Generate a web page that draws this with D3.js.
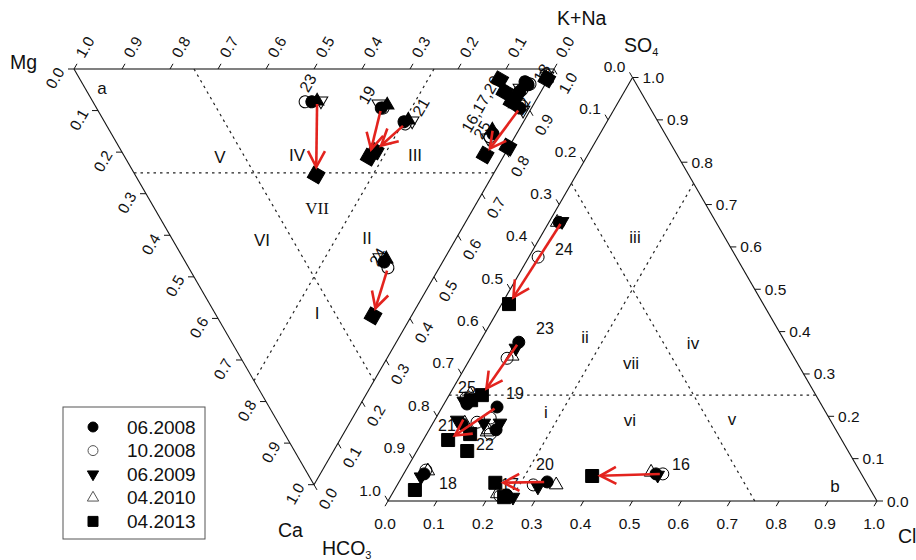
<!DOCTYPE html>
<html>
<head>
<meta charset="utf-8">
<script src="https://cdn.jsdelivr.net/npm/d3@7"></script>
<style>
body { margin: 0; background: #fff; }
svg text { font-family: "Liberation Sans", Arial, sans-serif; fill: #111; }
</style>
</head>
<body>
<div id="chart"></div>
<script>
// Samples and sampling campaigns
let sampleIds = [16, 17, 18, 19, 20, 21, 22, 23, 24, 25];
let dates = ["06.2008", "10.2008", "06.2009", "04.2010", "04.2013"];
let tickVals = [0, 0.1, 0.2, 0.3, 0.4, 0.5, 0.6, 0.7, 0.8, 0.9, 1.0];
let divisions = [0.25, 0.75];

// Cation fractions (triangle a), one row per date, columns follow sampleIds
let cationNa = [
    [0.924, 0.901, 0.975, 0.593, 0.927, 0.624, 0.882, 0.456, 0.414, 0.795],
    [0.927, 0.908, 0.976, 0.597, 0.932, 0.624, 0.889, 0.442, 0.415, 0.785],
    [0.915, 0.888, 0.973, 0.609, 0.875, 0.635, 0.877, 0.468, 0.422, 0.798],
    [0.906, 0.891, 0.977, 0.593, 0.881, 0.642, 0.886, 0.476, 0.410, 0.780],
    [0.874, 0.870, 0.973, 0.509, 0.873, 0.529, 0.753, 0.377, 0.326, 0.810]
];
let cationCa = [
    [0.031, 0.055, 0.024, 0.094, 0.038, 0.127, 0.094, 0.079, 0.464, 0.156],
    [0.034, 0.050, 0.014, 0.094, 0.036, 0.132, 0.089, 0.079, 0.478, 0.163],
    [0.041, 0.063, 0.022, 0.087, 0.075, 0.123, 0.084, 0.077, 0.457, 0.147],
    [0.046, 0.067, 0.017, 0.084, 0.079, 0.125, 0.099, 0.077, 0.454, 0.166],
    [0.026, 0.055, 0.024, 0.212, 0.079, 0.197, 0.207, 0.255, 0.594, 0.188]
];

// Anion fractions (triangle b)
let anionSO4 = [
    [0.064, 0.014, 0.064, 0.222, 0.045, 0.182, 0.168, 0.375, 0.658, 0.229],
    [0.064, 0.012, 0.073, 0.196, 0.038, 0.186, 0.158, 0.337, 0.576, 0.243],
    [0.061, 0.009, 0.057, 0.184, 0.033, 0.191, 0.184, 0.361, 0.660, 0.236],
    [0.068, 0.017, 0.071, 0.168, 0.038, 0.184, 0.163, 0.342, 0.658, 0.252],
    [0.059, 0.009, 0.026, 0.144, 0.043, 0.118, 0.158, 0.250, 0.465, 0.238]
];
let anionCl = [
    [0.516, 0.236, 0.042, 0.112, 0.303, 0.061, 0.137, 0.080, 0.021, 0.047],
    [0.530, 0.223, 0.041, 0.111, 0.278, 0.089, 0.130, 0.075, 0.019, 0.038],
    [0.521, 0.251, 0.039, 0.137, 0.290, 0.046, 0.104, 0.081, 0.026, 0.037],
    [0.504, 0.215, 0.046, 0.121, 0.325, 0.065, 0.121, 0.083, 0.017, 0.042],
    [0.388, 0.233, 0.042, 0.051, 0.198, 0.103, 0.089, 0.067, 0.015, 0.051]
];

// Arrows: [sample, index of start date]; every arrow ends at 04.2013
let arrowsA = [[23, 2], [19, 0], [21, 1], [24, 1], [22, 0]];
let arrowsB = [[24, 2], [23, 0], [19, 0], [20, 0], [16, 1]];

// Sample labels [text, x, y]
let labelsA = [["23", 308, 83], ["19", 367, 95], ["21", 421, 107], ["24", 378, 257],
    ["16,17,20", 481, 104], ["25", 482, 130], ["22", 522, 106], ["18", 542, 73]];
let labelsB = [["24", 564, 249], ["23", 545, 328], ["25", 467, 387], ["19", 515, 393],
    ["21", 447, 425], ["22", 485, 444], ["20", 545, 464], ["18", 448, 483],
    ["17", 510, 484], ["16", 681, 464]];

let svgWidth = 916;
let svgHeight = 560;
let red = "#e3231e";

let svg = d3.select('#chart')
    .append('svg')
    .attr('width', svgWidth)
    .attr('height', svgHeight);

// Triangle a (cations, pointing down) and triangle b (anions, pointing up)
let sideA = 480, hA = sideA * Math.sqrt(3) / 2;
let sideB = 489, hB = sideB * Math.sqrt(3) / 2;
let xA = d3.scaleLinear().domain([0, 1]).range([74, 74 + sideA]);
let yA = d3.scaleLinear().domain([0, 1]).range([69, 69 + hA]);
let xB = d3.scaleLinear().domain([0, 1]).range([388, 388 + sideB]);
let yB = d3.scaleLinear().domain([0, 1]).range([501, 501 - hB]);

function posA(na, ca) { return [xA(na + ca / 2), yA(ca)]; }
function posB(cl, so4) { return [xB(cl + so4 / 2), yB(so4)]; }

let defs = svg.append('defs');
defs.append('marker')
    .attr('id', 'head')
    .attr('markerUnits', 'userSpaceOnUse')
    .attr('viewBox', '-20 -12 24 24')
    .attr('markerWidth', 24)
    .attr('markerHeight', 24)
    .attr('refX', 0)
    .attr('refY', 0)
    .attr('orient', 'auto')
    .append('path')
    .attr('d', 'M-16,-8.5L0,0L-16,8.5')
    .attr('fill', 'none')
    .attr('stroke', red)
    .attr('stroke-width', 2.6);

let line = (g, p, q) => g.append('line')
    .attr('x1', p[0]).attr('y1', p[1]).attr('x2', q[0]).attr('y2', q[1]);

// ---- frames
let frame = svg.append('g');
line(frame, posA(1, 0), posA(0, 0)).attr('stroke', '#808080').attr('stroke-width', 2);
line(frame, posA(0, 0), posA(0, 1)).attr('stroke', '#111').attr('stroke-width', 1.1);
line(frame, posA(1, 0), posA(0, 1)).attr('stroke', '#111').attr('stroke-width', 1.1);
line(frame, posB(0, 0), posB(1, 0)).attr('stroke', '#808080').attr('stroke-width', 2);
line(frame, posB(0, 0), posB(0, 1)).attr('stroke', '#111').attr('stroke-width', 1.1);
line(frame, posB(1, 0), posB(0, 1)).attr('stroke', '#111').attr('stroke-width', 1.1);

// ---- ticks and tick labels
let fmt = d3.format('.1f');
let ticks = svg.append('g').attr('stroke', '#111').attr('stroke-width', 1);
let tickText = svg.append('g').style('font-size', '15.5px');

function rotLabel(x, y, txt) {
    tickText.append('text')
        .attr('transform', `translate(${x},${y}) rotate(-60)`)
        .attr('text-anchor', 'middle')
        .attr('dominant-baseline', 'central')
        .text(txt);
}

tickVals.forEach(function(v) {
    // a: top edge (Mg)
    let p = posA(1 - v, 0);
    line(ticks, p, [p[0] + 3, p[1] - 5.2]);
    rotLabel(p[0] + 11, p[1] - 22, fmt(v));
    // a: left edge (Ca)
    p = posA(0, v);
    line(ticks, p, [p[0] - 6, p[1]]);
    rotLabel(p[0] - 19, p[1] + 9, fmt(v));
    // a: right edge (K+Na)
    p = posA(v, 1 - v);
    line(ticks, p, [p[0] + 3, p[1] + 5.2]);
    rotLabel(p[0] + 14, p[1] + 14, fmt(v));

    // b: bottom edge (Cl)
    p = posB(v, 0);
    line(ticks, p, [p[0] - 3, p[1] + 5.2]);
    tickText.append('text').attr('x', p[0] - 3).attr('y', p[1] + 22)
        .attr('text-anchor', 'middle').attr('dominant-baseline', 'central').text(fmt(v));
    // b: left edge (HCO3)
    p = posB(0, 1 - v);
    line(ticks, p, [p[0] - 3, p[1] - 5.2]);
    tickText.append('text').attr('x', p[0] - 18).attr('y', p[1] - 11)
        .attr('text-anchor', 'middle').attr('dominant-baseline', 'central').text(fmt(v));
    // b: right edge (SO4)
    p = posB(1 - v, v);
    line(ticks, p, [p[0] + 6, p[1]]);
    tickText.append('text').attr('x', p[0] + 10).attr('y', p[1])
        .attr('dominant-baseline', 'central').text(fmt(v));
});

// ---- axis names
let names = svg.append('g').style('font-size', '19.5px');
names.append('text').attr('x', 10).attr('y', 69).text('Mg');
names.append('text').attr('x', 557).attr('y', 25).text('K+Na');
names.append('text').attr('x', 278).attr('y', 537).text('Ca');
names.append('text').attr('x', 898).attr('y', 543).text('Cl');
let hco = names.append('text').attr('x', 322).attr('y', 555).text('HCO');
hco.append('tspan').attr('dy', 4).style('font-size', '11px').text('3');
let so = names.append('text').attr('x', 624).attr('y', 52).text('SO');
so.append('tspan').attr('dy', 4).style('font-size', '11px').text('4');

// ---- division lines
let div = svg.append('g')
    .attr('stroke', '#222')
    .attr('stroke-width', 1.2)
    .attr('stroke-dasharray', '2.5,4');
line(div, posA(0, divisions[0]), posA(divisions[1], divisions[0]));
line(div, posA(divisions[0], 0), posA(divisions[0], divisions[1]));
line(div, posA(divisions[1], 0), posA(0, divisions[1]));
line(div, posB(0, divisions[0]), posB(divisions[1], divisions[0]));
line(div, posB(divisions[0], 0), posB(divisions[0], divisions[1]));
line(div, posB(divisions[1], 0), posB(0, divisions[1]));

// ---- region labels
let regions = svg.append('g').style('font-size', '17px').attr('text-anchor', 'middle');
[["a", 102, 94], ["V", 220, 163], ["IV", 297, 161], ["III", 415, 161], ["VI", 262, 246],
 ["II", 367, 244], ["I", 317, 319], ["b", 835, 492], ["iii", 635, 243], ["ii", 585, 343],
 ["iv", 693, 349], ["vii", 631, 369], ["i", 546, 418], ["vi", 630, 426], ["v", 732, 425]]
    .forEach(d => regions.append('text').attr('x', d[1]).attr('y', d[2]).text(d[0]));
regions.append('text').attr('x', 317).attr('y', 214)
    .style('font-family', '"Liberation Serif", "Times New Roman", serif')
    .text('VII');

// ---- sample labels
let sl = svg.append('g').style('font-size', '16px');
labelsA.forEach(d => sl.append('text')
    .attr('transform', `translate(${d[1]},${d[2]}) rotate(-60)`)
    .attr('text-anchor', 'middle').attr('dominant-baseline', 'central').text(d[0]));
labelsB.forEach(d => sl.append('text')
    .attr('x', d[1]).attr('y', d[2])
    .attr('text-anchor', 'middle').attr('dominant-baseline', 'central').text(d[0]));

// ---- symbols
let symbolDefs = [
    { type: d3.symbolCircle, size: 113, rot: 0, fill: '#000' },
    { type: d3.symbolCircle, size: 113, rot: 0, fill: 'none' },
    { type: d3.symbolTriangle, size: 80, rot: 180, fill: '#000' },
    { type: d3.symbolTriangle, size: 80, rot: 0, fill: 'none' },
    { type: d3.symbolSquare, size: 169, rot: 0, fill: '#000' }
];

let pts = svg.append('g');
dates.forEach(function(date, di) {
    let s = symbolDefs[di];
    let path = d3.symbol().type(s.type).size(s.size)();
    sampleIds.forEach(function(id, si) {
        let pa = posA(cationNa[di][si], cationCa[di][si]);
        pts.append('path')
            .attr('d', path)
            .attr('transform', `translate(${pa[0]},${pa[1]}) rotate(${s.rot - 60})`)
            .attr('fill', s.fill)
            .attr('stroke', '#000')
            .attr('stroke-width', 1);
        let pb = posB(anionCl[di][si], anionSO4[di][si]);
        pts.append('path')
            .attr('d', path)
            .attr('transform', `translate(${pb[0]},${pb[1]}) rotate(${s.rot})`)
            .attr('fill', s.fill)
            .attr('stroke', '#000')
            .attr('stroke-width', 1);
    });
});

// ---- arrows
function drawArrow(p, q) {
    let dx = q[0] - p[0], dy = q[1] - p[1];
    let len = Math.sqrt(dx * dx + dy * dy);
    let ux = dx / len, uy = dy / len;
    svg.append('line')
        .attr('x1', p[0] + ux * 3).attr('y1', p[1] + uy * 3)
        .attr('x2', q[0] - ux * 8).attr('y2', q[1] - uy * 8)
        .attr('stroke', red)
        .attr('stroke-width', 2.6)
        .attr('marker-end', 'url(#head)');
}
arrowsA.forEach(function(a) {
    let si = sampleIds.indexOf(a[0]);
    drawArrow(posA(cationNa[a[1]][si], cationCa[a[1]][si]), posA(cationNa[4][si], cationCa[4][si]));
});
arrowsB.forEach(function(a) {
    let si = sampleIds.indexOf(a[0]);
    drawArrow(posB(anionCl[a[1]][si], anionSO4[a[1]][si]), posB(anionCl[4][si], anionSO4[4][si]));
});

// ---- legend
let legend = svg.append('g');
legend.append('rect')
    .attr('x', 63).attr('y', 407).attr('width', 142).attr('height', 132)
    .attr('fill', '#fff').attr('stroke', '#555').attr('stroke-width', 1);
let legendSizes = [78, 78, 55, 55, 100];
dates.forEach(function(date, di) {
    let s = symbolDefs[di];
    let y = 427 + di * 23.6;
    legend.append('path')
        .attr('d', d3.symbol().type(s.type).size(legendSizes[di])())
        .attr('transform', `translate(93,${y}) rotate(${s.rot})`)
        .attr('fill', s.fill)
        .attr('stroke', s.fill === 'none' ? '#555' : '#000')
        .attr('stroke-width', 1);
    legend.append('text')
        .attr('x', 127).attr('y', y)
        .attr('dominant-baseline', 'central')
        .style('font-size', '19px')
        .text(date);
});
</script>
</body>
</html>
